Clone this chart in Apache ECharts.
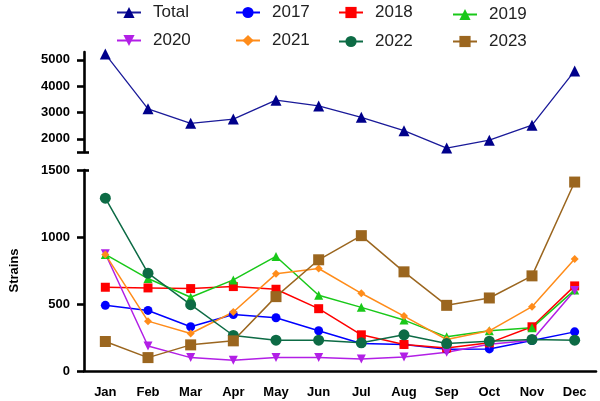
<!DOCTYPE html>
<html>
<head>
<meta charset="utf-8">
<script src="https://cdn.jsdelivr.net/npm/echarts@6/dist/echarts.min.js"></script>
<style>
  html, body { margin: 0; padding: 0; background: #fff; }
  #chart { width: 600px; height: 401px; }
</style>
</head>
<body>
<div id="chart"></div>
<script>
const months = ['Jan', 'Feb', 'Mar', 'Apr', 'May', 'Jun', 'Jul', 'Aug', 'Sep', 'Oct', 'Nov', 'Dec'];

const total = [5220, 3140, 2590, 2750, 3470, 3250, 2820, 2310, 1650, 1950, 2520, 4580];
const y2017 = [490, 452, 330, 422, 397, 300, 205, 198, 162, 165, 228, 292];
const y2018 = [625, 620, 615, 630, 610, 465, 270, 198, 172, 210, 330, 635];
const y2019 = [870, 690, 550, 680, 855, 565, 475, 380, 255, 300, 322, 605];
const y2020 = [875, 187, 100, 80, 100, 100, 90, 105, 140, 200, 230, 600];
const y2021 = [870, 372, 280, 440, 725, 765, 580, 410, 235, 300, 480, 835];
const y2022 = [1290, 730, 495, 265, 230, 230, 210, 270, 205, 222, 235, 230];
const y2023 = [220, 100, 195, 225, 555, 830, 1010, 740, 490, 545, 710, 1410];

const topTicks = [1500, 2000, 3000, 4000, 5000];
const topLabels = [2000, 3000, 4000, 5000];

const FONT = 'Liberation Sans, Arial, sans-serif';

const chart = echarts.init(document.getElementById('chart'));

function yearSeries(name, data, color, symbol, size) {
    return {
        name: name,
        type: 'line',
        xAxisIndex: 1,
        yAxisIndex: 2,
        data: data,
        symbol: symbol,
        symbolSize: size,
        itemStyle: { color: color },
        lineStyle: { color: color, width: 1.5 },
        emphasis: { disabled: true },
        z: 3
    };
}

// one legend per item so the 4x2 layout can be matched
const legendSpots = [
    ['Total', 116, 4], ['2017', 235, 4], ['2018', 338, 4], ['2019', 452, 6],
    ['2020', 116, 32], ['2021', 235, 32], ['2022', 338, 33], ['2023', 452, 33]
];
const legends = legendSpots.map(([name, x, y]) => ({
    data: [name],
    left: x,
    top: y,
    padding: 0,
    itemWidth: 24,
    itemHeight: 14,
    textStyle: { fontFamily: FONT, fontSize: 17, color: '#222', padding: [0, 0, 0, 7] },
    selectedMode: false
}));

const axisLineStyle = { color: '#000', width: 2.6 };
const plainNumber = v => String(v);

const option = {
    backgroundColor: '#fff',
    animation: false,
    legend: legends,
    grid: [
        { left: 84, right: 4, top: 52, height: 100, outerBoundsMode: 'none' },
        { left: 84, right: 4, top: 170, height: 201, outerBoundsMode: 'none' }
    ],
    xAxis: [
        { type: 'category', gridIndex: 0, data: months, show: false },
        {
            type: 'category', gridIndex: 1, data: months,
            axisLine: { lineStyle: axisLineStyle },
            axisTick: { alignWithLabel: true, length: 7, lineStyle: { color: '#000', width: 2.6 } },
            axisLabel: { fontFamily: FONT, fontSize: 13, fontWeight: 'bold', color: '#000', margin: 15 }
        }
    ],
    yAxis: [
        {
            type: 'value', gridIndex: 0, min: 1500, max: 5300,
            splitLine: { show: false },
            axisLine: { show: true, lineStyle: axisLineStyle },
            axisTick: { show: true, length: 7, customValues: topTicks, lineStyle: { color: '#000', width: 2.6 } },
            axisLabel: { customValues: topLabels, formatter: plainNumber, fontFamily: FONT, fontSize: 13, fontWeight: 'bold', color: '#000', margin: 14 }
        },
        {
            // break cap on the inner side of the upper axis
            type: 'value', gridIndex: 0, min: 1500, max: 5300, position: 'left',
            splitLine: { show: false },
            axisLine: { show: false },
            axisTick: { show: true, inside: true, length: 5, customValues: [1500], lineStyle: { color: '#000', width: 2.6 } },
            axisLabel: { show: false }
        },
        {
            type: 'value', gridIndex: 1, min: 0, max: 1500, interval: 500,
            name: 'Strains', nameLocation: 'middle', nameGap: 63, nameRotate: 90,
            nameTextStyle: { fontFamily: FONT, fontSize: 13, fontWeight: 'bold', color: '#000' },
            splitLine: { show: false },
            axisLine: { show: true, lineStyle: axisLineStyle },
            axisTick: { show: true, length: 7, lineStyle: { color: '#000', width: 2.6 } },
            axisLabel: { formatter: plainNumber, fontFamily: FONT, fontSize: 13, fontWeight: 'bold', color: '#000', margin: 14 }
        },
        {
            // break cap on the inner side of the lower axis
            type: 'value', gridIndex: 1, min: 0, max: 1500, position: 'left',
            splitLine: { show: false },
            axisLine: { show: false },
            axisTick: { show: true, inside: true, length: 5, customValues: [1500], lineStyle: { color: '#000', width: 2.6 } },
            axisLabel: { show: false }
        }
    ],
    series: [
        {
            name: 'Total', type: 'line', xAxisIndex: 0, yAxisIndex: 0, data: total,
            symbol: 'triangle', symbolSize: 11,
            itemStyle: { color: '#00008b' },
            lineStyle: { color: '#1a1a99', width: 1.3 },
            emphasis: { disabled: true }
        },
        yearSeries('2017', y2017, '#0000ff', 'circle', 9),
        yearSeries('2018', y2018, '#ff0000', 'rect', 9),
        yearSeries('2019', y2019, '#19c819', 'triangle', 9),
        yearSeries('2020', y2020, '#b21fe6', 'path://M0,0 L10,0 L5,9 Z', 9),
        yearSeries('2021', y2021, '#ff8c1a', 'diamond', 8),
        yearSeries('2022', y2022, '#0d6b45', 'circle', 11),
        yearSeries('2023', y2023, '#9b661f', 'rect', 11)
    ]
};

chart.setOption(option);
</script>
</body>
</html>
